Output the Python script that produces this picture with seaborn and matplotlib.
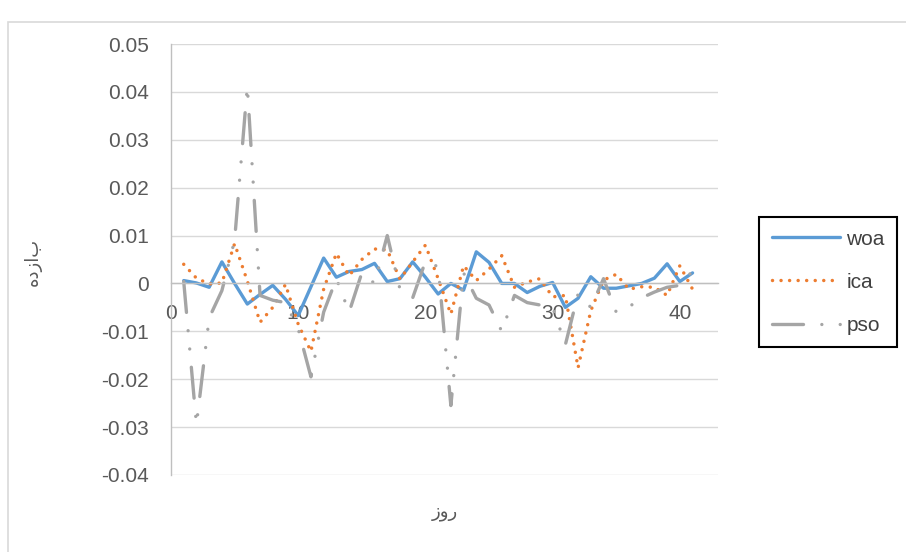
import matplotlib
matplotlib.use("Agg")
import matplotlib.pyplot as plt
import seaborn as sns
import numpy as np
from matplotlib.patches import Rectangle
from matplotlib.ticker import FixedLocator, FuncFormatter

# data
days = list(range(1, 42))
woa = [0.0006, 0.0001, -0.0008, 0.0045, 0.0000, -0.0043, -0.0023, -0.0004, -0.0033, -0.0067,
       -0.0007, 0.0053, 0.0013, 0.0025, 0.0029, 0.0042, 0.0004, 0.0010, 0.0045, 0.0013,
       -0.0022, 0.0000, -0.0014, 0.0066, 0.0044, 0.0000, 0.0000, -0.0019, -0.0006, 0.0002,
       -0.0050, -0.0031, 0.0014, -0.0010, -0.0010, -0.0005, 0.0000, 0.0011, 0.0041, 0.0004,
       0.0022]
ica = [0.0040, 0.0011, -0.0001, 0.0001, 0.0083, 0.0005, -0.0081, -0.0050, -0.0002, -0.0085,
       -0.0142, -0.0012, 0.0063, 0.0016, 0.0050, 0.0072, 0.0070, 0.0009, 0.0045, 0.0080,
       0.0010, -0.0064, 0.0037, 0.0006, 0.0030, 0.0058, -0.0008, 0.0003, 0.0010, -0.0028,
       -0.0025, -0.0176, -0.0057, 0.0007, 0.0019, -0.0012, -0.0007, -0.0008, -0.0025, 0.0037,
       -0.0012]
pso = [0.0004, -0.0295, -0.0072, -0.0015, 0.0090, 0.0412, -0.0025, -0.0035, -0.0040, -0.0095,
       -0.0195, -0.0060, 0.0010, -0.0060, 0.0022, 0.0000, 0.0100, -0.0012, -0.0030, 0.0046,
       0.0035, -0.0255, 0.0022, -0.0031, -0.0045, -0.0100, -0.0025, -0.0040, -0.0045, -0.0050,
       -0.0128, -0.0022, -0.0050, 0.0010, -0.0060, -0.0049, -0.0030, -0.0018, -0.0008, -0.0004,
       0.0026]
series_names = ["woa", "ica", "pso"]
x_ticks = [0, 10, 20, 30, 40]
y_ticks = [-0.04, -0.03, -0.02, -0.01, 0, 0.01, 0.02, 0.03, 0.04, 0.05]
x_title = "روز"
y_title = "بازده"

sns.set_theme(style="white")
plt.rcParams["font.family"] = ["Liberation Sans", "DejaVu Sans"]

W, H = 906, 552
fig = plt.figure(figsize=(W / 100, H / 100), dpi=100)
ax = fig.add_axes([171 / W, 1 - 475 / H, (718 - 171) / W, (475 - 44) / H])

# chart border (cropped on the right and bottom)
fig.patches.append(Rectangle((8 / W, -0.2), 1.5, 1.2 - 22 / H, transform=fig.transFigure,
                             fill=False, edgecolor="#d9d9d9", linewidth=1.2, zorder=0))

styles = {
    "woa": dict(color="#5b9bd5", linewidth=2.4, linestyle="-", solid_capstyle="round"),
    "ica": dict(color="#ed7d31", linewidth=2.5, linestyle=(0, (0.01, 2.45)), dash_capstyle="round"),
    "pso": dict(color="#a5a5a5", linewidth=2.4, linestyle=(0, (9.3, 5.5, 0.01, 5.5, 0.01, 5.5)),
                dash_capstyle="round"),
}
for name, values in zip(series_names, [woa, ica, pso]):
    sns.lineplot(x=days, y=values, ax=ax, label=name, **styles[name])

ax.set_xlim(0, 43)
ax.set_ylim(-0.04, 0.05)
ax.xaxis.set_major_locator(FixedLocator(x_ticks))
ax.yaxis.set_major_locator(FixedLocator(y_ticks))
ax.yaxis.set_major_formatter(FuncFormatter(lambda v, p: f"{round(v, 2):g}"))
ax.grid(axis="y", color="#d9d9d9", linewidth=1.0)
ax.grid(axis="x", visible=False)
ax.set_axisbelow(True)

for s in ["top", "right"]:
    ax.spines[s].set_visible(False)
ax.spines["bottom"].set_position(("data", 0))
ax.spines["bottom"].set_color("#bfbfbf")
ax.spines["left"].set_color("#bfbfbf")
ax.spines["bottom"].set_linewidth(1.0)
ax.spines["left"].set_linewidth(1.0)
ax.tick_params(axis="both", length=0, labelsize=15, labelcolor="#595959")
ax.tick_params(axis="y", pad=16)
ax.tick_params(axis="x", pad=15)

# matplotlib has no bidi, so give the Persian titles in visual order
ax.set_xlabel(x_title[::-1], fontsize=13, color="#595959", family=["DejaVu Sans"])
ax.set_ylabel(y_title[::-1], fontsize=13, color="#595959", family=["DejaVu Sans"])
ax.xaxis.set_label_coords((445 - 171) / 547, (475 - 503) / 431)
ax.yaxis.set_label_coords((42 - 171) / 547, (475 - 262) / 431)

leg = ax.legend(loc="upper left", bbox_to_anchor=(759 / W, 1 - 217 / H), bbox_transform=fig.transFigure,
                fontsize=15, frameon=True, fancybox=False, edgecolor="black", framealpha=1,
                handlelength=3.3, handletextpad=0.3, borderpad=0.6, labelspacing=1.16, borderaxespad=0)
leg.get_frame().set_linewidth(1.5)
for t in leg.get_texts():
    t.set_color("#404040")

fig.savefig("out.png", dpi=100)
